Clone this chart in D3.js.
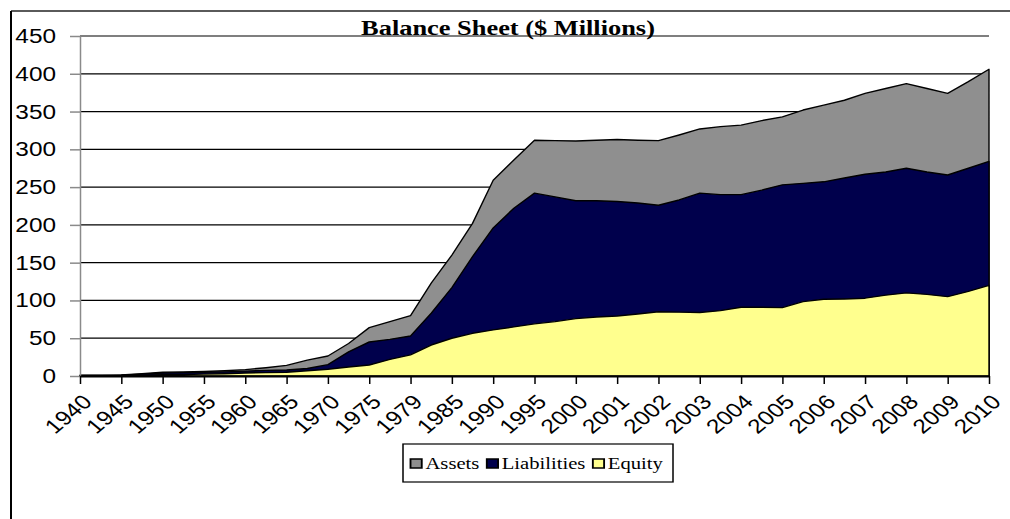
<!DOCTYPE html>
<html>
<head>
<meta charset="utf-8">
<script src="https://cdn.jsdelivr.net/npm/d3@7"></script>
<style>
  body { margin: 0; background: #fff; }
  svg { display: block; }
</style>
</head>
<body>
<div id="chart"></div>
<script>
// tick labels (one every second data point)
var yearLabels = ["1940","1945","1950","1955","1960","1965","1970","1975","1979","1985","1990","1995",
  "2000","2001","2002","2003","2004","2005","2006","2007","2008","2009","2010"];

// values at every labelled tick and half way between ($ millions)
var assets = [1,1,1.5,3,5,5.5,6,7,8.5,11,14,21,26.5,43,64,72,80,123,160,202,259,286,312,311.5,
  311,312,313,312,311.5,319,327,330,332,338,343,352,358.5,365,374,380.5,387,380.5,374,389.5,406];
var liabilities = [0.8,0.8,1.2,2.5,4,4.5,5,5.5,6.5,7.5,8,10,15,32,45,48.5,53,83,117,158,196,222,242,237,
  232,232,231,229,226,233,242,240,240,246,253,255,257,262,267,270,275,270,266,275,284];
var equity = [0.3,0.3,0.6,1,1.8,2,2.5,3,4,4.5,5,7,9,12,14.5,22,28,41,50,56.5,61,65,69,72,
  76,78,79.5,82,85,84.5,84,86.5,91,91,90.5,98.5,101.5,102,103,107,110,108,105,112,120];

var seriesNames = ["Assets","Liabilities","Equity"];
var seriesColors = ["#8f8f8f","#00004c","#ffff8e"];
var yTicks = [0,50,100,150,200,250,300,350,400,450];

var width = 1010, height = 519;
var plot = {left: 80, right: 989, top: 36, bottom: 376};
var stretch = 1.25; // the original text is drawn wide

var svg = d3.select("#chart").append("svg")
  .attr("width", width)
  .attr("height", height)
  .style("background", "#fff");

var x = d3.scaleLinear().domain([0, assets.length - 1]).range([plot.left, plot.right]);
var y = d3.scaleLinear().domain([0, 450]).range([plot.bottom, plot.top]);

// outer frame (top and left edges only are visible)
svg.append("line").attr("x1", 11).attr("x2", width).attr("y1", 11).attr("y2", 11)
  .attr("stroke", "#5a5a5a").attr("stroke-width", 2);
svg.append("line").attr("x1", 11).attr("x2", 11).attr("y1", 11).attr("y2", height)
  .attr("stroke", "#000").attr("stroke-width", 2);

// gridlines
svg.append("g").selectAll("line")
  .data(yTicks.filter(function(d){ return d > 0; }))
  .enter().append("line")
  .attr("x1", plot.left).attr("x2", plot.right)
  .attr("y1", function(d){ return y(d); }).attr("y2", function(d){ return y(d); })
  .attr("stroke", "#000").attr("stroke-width", 1.2);

// areas, back to front
var area = d3.area()
  .x(function(d, i){ return x(i); })
  .y0(y(0))
  .y1(function(d){ return y(d); });

[assets, liabilities, equity].forEach(function(values, k){
  svg.append("path")
    .datum(values)
    .attr("d", area)
    .attr("fill", seriesColors[k])
    .attr("stroke", "#000")
    .attr("stroke-width", 1.4)
    .attr("stroke-linejoin", "round");
});

// y axis
var yAxis = svg.append("g")
  .attr("transform", "translate(" + plot.left + ",0)")
  .call(d3.axisLeft(y).tickValues(yTicks).tickSize(10).tickSizeOuter(0).tickFormat(""));
yAxis.select(".domain").attr("stroke", "#8a8a8a").attr("stroke-width", 1.5);
yAxis.selectAll(".tick line").attr("stroke", "#8a8a8a").attr("stroke-width", 1.5);

svg.append("g").selectAll("text")
  .data(yTicks)
  .enter().append("text")
  .attr("transform", function(d){ return "translate(56," + y(d) + ") scale(" + stretch + ",1)"; })
  .attr("dy", "0.36em")
  .attr("text-anchor", "end")
  .style("font-family", "Arial, 'Liberation Sans', sans-serif")
  .style("font-size", "19.5px")
  .attr("fill", "#000")
  .text(function(d){ return d; });

// x axis
var tickIdx = d3.range(0, assets.length, 2);
var xAxis = svg.append("g")
  .attr("transform", "translate(0," + plot.bottom + ")")
  .call(d3.axisBottom(x).tickValues(tickIdx).tickSize(8).tickSizeOuter(0).tickFormat(""));
xAxis.select(".domain").attr("stroke", "#000").attr("stroke-width", 2);
xAxis.selectAll(".tick line").attr("stroke", "#000").attr("stroke-width", 1.5);

svg.append("g").selectAll("text")
  .data(tickIdx)
  .enter().append("text")
  .attr("transform", function(i){
    return "translate(" + (x(i) + 1) + ",393) scale(" + (stretch - 0.03) + ",1) rotate(-45)";
  })
  .attr("dy", "0.72em")
  .attr("text-anchor", "end")
  .style("font-family", "Arial, 'Liberation Sans', sans-serif")
  .style("font-size", "20px")
  .attr("fill", "#000")
  .text(function(i){ return yearLabels[i / 2]; });

// title
svg.append("text")
  .attr("transform", "translate(508,35) scale(1.2,1)")
  .attr("text-anchor", "middle")
  .style("font-family", "'Liberation Serif', 'Times New Roman', serif")
  .style("font-weight", "bold")
  .style("font-size", "22px")
  .attr("fill", "#000")
  .text("Balance Sheet ($ Millions)");

// legend
var legend = svg.append("g")
  .attr("transform", "translate(403,444) scale(" + stretch + ",1)");
legend.append("rect")
  .attr("width", 270 / stretch).attr("height", 38)
  .attr("fill", "#fff").attr("stroke", "#000").attr("stroke-width", 1.2);

var cursor = 6;
seriesNames.forEach(function(name, k){
  legend.append("rect")
    .attr("x", cursor).attr("y", 15)
    .attr("width", 9).attr("height", 9)
    .attr("fill", seriesColors[k])
    .attr("stroke", "#000").attr("stroke-width", 1.5);
  var t = legend.append("text")
    .attr("x", cursor + 12).attr("y", 25)
    .style("font-family", "'Liberation Serif', 'Times New Roman', serif")
    .style("font-size", "16.5px")
    .attr("fill", "#000")
    .text(name);
  cursor += 12 + t.node().getComputedTextLength() + 6;
});
</script>
</body>
</html>
